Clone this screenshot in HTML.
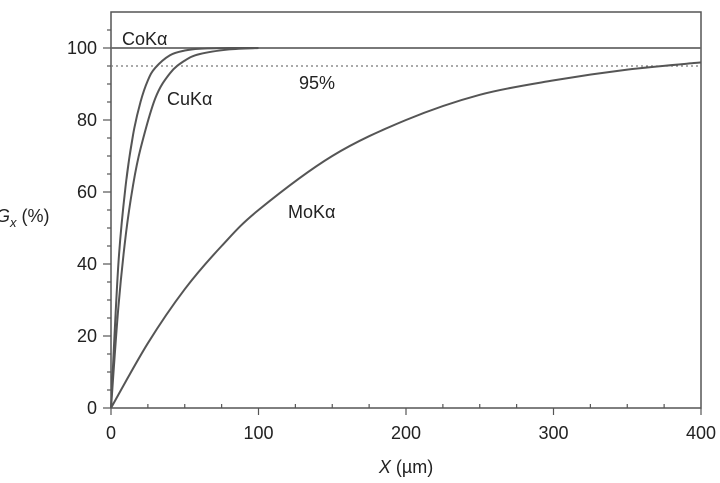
<!DOCTYPE html>
<html><head><meta charset="utf-8"><style>
body{margin:0;background:#fff;}
svg{display:block;font-family:"Liberation Sans",sans-serif;}
</style></head><body>
<svg id="chart" width="720" height="483"></svg>
<script>
const xTicks=[0,100,200,300,400];
const yTicks=[0,20,40,60,80,100];
const coX=[0,5,10,15,20,25,30,40,50,60,80,100];
const coG=[0,40,62,76,85,91,94.5,98,99.3,99.8,100,100];
const cuX=[0,5,10,15,20,30,40,50,60,80,100];
const cuG=[0,28,48,62,72,86,93,96.5,98.3,99.6,100];
const moX=[0,25,50,75,100,150,200,250,300,350,400];
const moG=[0,18,33,45,55,70,80,87,91,94,96];
const threshold=95;
const NS="http://www.w3.org/2000/svg";
const svg=document.getElementById('chart');
const X0=111,X1=701,Y0=408,Y100=48;
const sx=v=>X0+(X1-X0)*v/400;
const sy=v=>Y0-(Y0-Y100)*v/100;
function mk(t,a,p){const e=document.createElementNS(NS,t);for(const k in a)e.setAttribute(k,a[k]);(p||svg).appendChild(e);return e;}
const frame=mk('rect',{x:X0,y:12,width:X1-X0,height:Y0-12,fill:'none',stroke:'#555','stroke-width':1.5});


for(let v=0;v<=105;v+=5){const major=v%20===0;
 const t=mk('line',{x1:X0-(major?8:4),x2:X0,y1:sy(v),y2:sy(v),stroke:'#555','stroke-width':1.2});
 
 }
yTicks.forEach(v=>{const t=mk('text',{x:X0-14,y:sy(v)+6,'text-anchor':'end','font-size':18,fill:'#222'});t.textContent=v;
 
 });
for(let v=0;v<=400;v+=25){const major=v%100===0;
 const t=mk('line',{x1:sx(v),x2:sx(v),y1:Y0-(major?0:4),y2:Y0+(major?7:0),stroke:'#555','stroke-width':1.2});
 
 }
xTicks.forEach(v=>{const t=mk('text',{x:sx(v),y:Y0+31,'text-anchor':'middle','font-size':18,fill:'#222'});t.textContent=v;
 
 });
const xt=mk('text',{x:406,y:473,'text-anchor':'middle','font-size':18,fill:'#222'});
xt.innerHTML='<tspan font-style="italic">X</tspan> (µm)';


const yt=mk('text',{x:-4,y:222,'font-size':18,fill:'#222'});
yt.innerHTML='<tspan font-style="italic">G</tspan><tspan font-style="italic" font-size="13" dy="5">x</tspan><tspan dy="-5"> (%)</tspan>';


const full=mk('line',{x1:X0,x2:X1,y1:sy(100),y2:sy(100),stroke:'#666','stroke-width':1.8});


const th=mk('line',{x1:X0,x2:X1,y1:sy(threshold),y2:sy(threshold),stroke:'#777','stroke-width':1.3,'stroke-dasharray':'2,3'});


function curve(xs,ys){const p=xs.map((x,i)=>[sx(x),sy(ys[i])]);let d='M'+p[0][0]+','+p[0][1];
 for(let i=0;i<p.length-1;i++){const a=p[Math.max(0,i-1)],b=p[i],c=p[i+1],e=p[Math.min(p.length-1,i+2)];
  const c1=[b[0]+(c[0]-a[0])/6,b[1]+(c[1]-a[1])/6],c2=[c[0]-(e[0]-b[0])/6,c[1]-(e[1]-b[1])/6];
  d+=` C${c1[0]},${c1[1]} ${c2[0]},${c2[1]} ${c[0]},${c[1]}`;}return d;}
const pCo=mk('path',{d:curve(coX,coG),fill:'none',stroke:'#555','stroke-width':2});


const pCu=mk('path',{d:curve(cuX,cuG),fill:'none',stroke:'#555','stroke-width':2});


const pMo=mk('path',{d:curve(moX,moG),fill:'none',stroke:'#555','stroke-width':2});


function lab(txt,x,y,name){const t=mk('text',{x:x,y:y,'font-size':18,fill:'#222'});t.textContent=txt;
 
 }
lab('CoKα',122,45,'cok-label');
lab('CuKα',167,105,'cuk-label');
lab('MoKα',288,218,'mok-label');
lab('95%',299,89,'threshold-label');
</script>
</body></html>
